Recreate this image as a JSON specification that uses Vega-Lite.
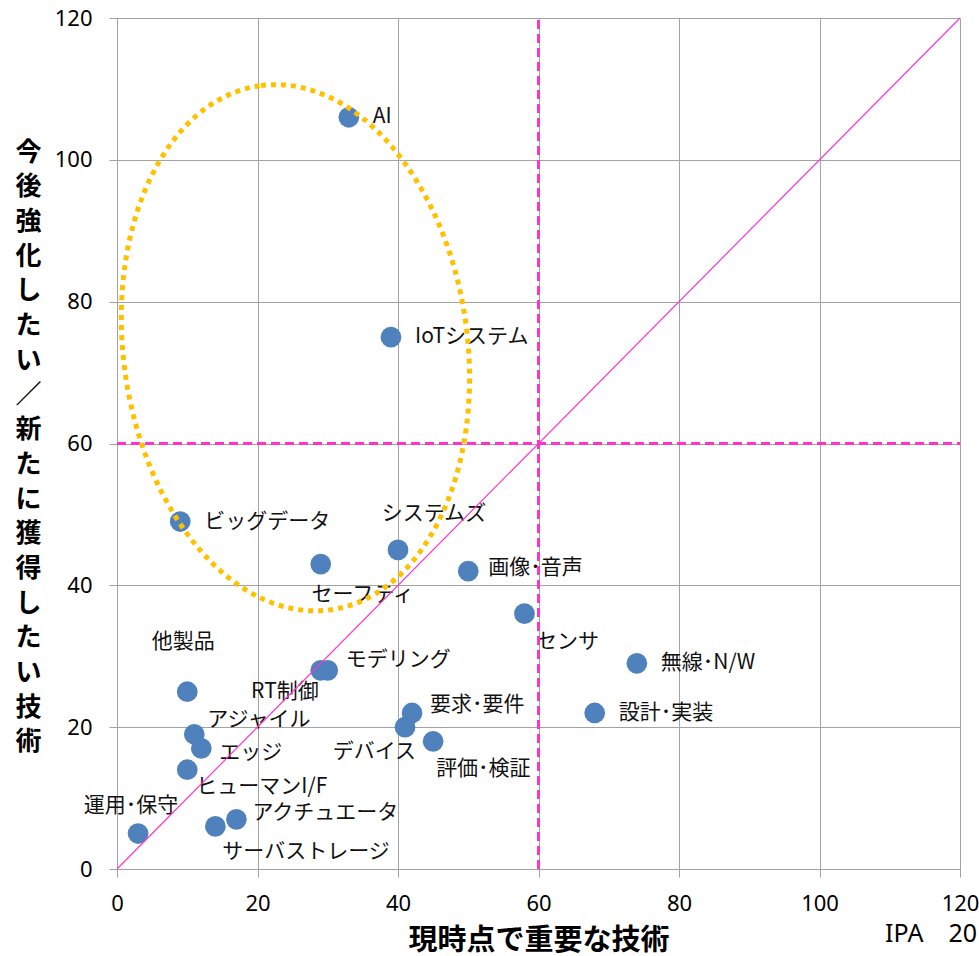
{
  "$schema": "https://vega.github.io/schema/vega-lite/v6.json",
  "width": 843,
  "height": 851,
  "autosize": "none",
  "padding": {"left": 117, "top": 18, "right": 19, "bottom": 87},
  "background": "white",
  "config": {"view": {"stroke": null}, "font": "Noto Sans CJK JP"},
  "title": {"text": "IPA　20", "orient": "bottom", "anchor": "end", "frame": "group", "font": "Noto Sans", "fontSize": 25, "fontWeight": "normal", "color": "#000000", "offset": -33, "dx": 17},
  "datasets": {
    "tech": [
      {"tech": "AI", "current": 33, "future": 106},
      {"tech": "IoTシステム", "current": 39, "future": 75},
      {"tech": "ビッグデータ", "current": 9, "future": 49},
      {"tech": "システムズ", "current": 40, "future": 45},
      {"tech": "セーフティ", "current": 29, "future": 43},
      {"tech": "画像･音声", "current": 50, "future": 42},
      {"tech": "センサ", "current": 58, "future": 36},
      {"tech": "無線･N/W", "current": 74, "future": 29},
      {"tech": "設計･実装", "current": 68, "future": 22},
      {"tech": "要求･要件", "current": 42, "future": 22},
      {"tech": "デバイス", "current": 41, "future": 20},
      {"tech": "評価･検証", "current": 45, "future": 18},
      {"tech": "モデリング", "current": 30, "future": 28},
      {"tech": "RT制御", "current": 29, "future": 28},
      {"tech": "他製品", "current": 10, "future": 25},
      {"tech": "アジャイル", "current": 11, "future": 19},
      {"tech": "エッジ", "current": 12, "future": 17},
      {"tech": "ヒューマンI/F", "current": 10, "future": 14},
      {"tech": "運用･保守", "current": 3, "future": 5},
      {"tech": "サーバストレージ", "current": 14, "future": 6},
      {"tech": "アクチュエータ", "current": 17, "future": 7}
    ],
    "guides": [
      {"kind": "diagonal", "x": 0, "y": 0, "x2": 120, "y2": 120},
      {"kind": "vertical", "x": 60, "y": 0, "x2": 60, "y2": 120},
      {"kind": "horizontal", "x": 0, "y": 60, "x2": 120, "y2": 60},
      {"kind": "ellipse", "x": 25.4, "y": 73.5, "x2": 25.4, "y2": 73.5}
    ]
  },
  "layer": [
    {
      "data": {"name": "tech"},
      "encoding": {
        "x": {"field": "current", "type": "quantitative", "scale": {"domain": [0, 120], "nice": false, "zero": false},
          "axis": {"values": [0, 20, 40, 60, 80, 100, 120], "grid": true, "gridColor": "#a3a3a3", "gridWidth": 1, "domainColor": "#a3a3a3", "tickColor": "#a3a3a3", "tickSize": 8, "labelFlush": false, "labelOverlap": false, "labelFont": "Noto Sans", "labelFontSize": 22, "labelColor": "#000000", "labelPadding": 16,
            "title": "現時点で重要な技術", "titleFont": "Noto Sans CJK JP", "titleFontSize": 29, "titleFontWeight": "bold", "titleColor": "#000000", "titleBaseline": "middle", "titleY": 71}},
        "y": {"field": "future", "type": "quantitative", "scale": {"domain": [0, 120], "nice": false, "zero": false},
          "axis": {"values": [0, 20, 40, 60, 80, 100, 120], "grid": true, "gridColor": "#a3a3a3", "gridWidth": 1, "domainColor": "#a3a3a3", "tickColor": "#a3a3a3", "tickSize": 8, "labelFlush": false, "labelOverlap": false, "labelFont": "Noto Sans", "labelFontSize": 22, "labelColor": "#000000", "labelPadding": 17,
            "title": ["今", "後", "強", "化", "し", "た", "い", "／", "新", "た", "に", "獲", "得", "し", "た", "い", "技", "術"],
            "titleFont": "Noto Sans CJK JP", "titleFontSize": 26, "titleFontWeight": "bold", "titleColor": "#000000", "titleAngle": 0, "titleAlign": "center", "titleBaseline": "middle", "titleX": -89, "titleY": 134, "titleLineHeight": 34.7}}
      },
      "layer": [
        {"mark": {"type": "circle", "size": 430, "color": "#4F81BD", "opacity": 1}},
        {
          "encoding": {"text": {"field": "tech", "type": "nominal"}},
          "layer": [
            {"transform": [{"filter": {"field": "tech", "oneOf": ["AI", "IoTシステム", "ビッグデータ", "無線･N/W", "設計･実装"]}}], "mark": {"type": "text", "align": "left", "baseline": "middle", "dx": 24, "dy": 0, "fontSize": 21, "color": "#111111"}},
            {"transform": [{"filter": "datum.tech === 'システムズ'"}], "mark": {"type": "text", "align": "center", "baseline": "middle", "dx": 36, "dy": -36, "fontSize": 21, "color": "#111111"}},
            {"transform": [{"filter": "datum.tech === 'セーフティ'"}], "mark": {"type": "text", "align": "center", "baseline": "middle", "dx": 42, "dy": 31, "fontSize": 21, "color": "#111111"}},
            {"transform": [{"filter": "datum.tech === '画像･音声'"}], "mark": {"type": "text", "align": "left", "baseline": "middle", "dx": 20, "dy": -3, "fontSize": 21, "color": "#111111"}},
            {"transform": [{"filter": "datum.tech === 'センサ'"}], "mark": {"type": "text", "align": "center", "baseline": "middle", "dx": 43, "dy": 28, "fontSize": 21, "color": "#111111"}},
            {"transform": [{"filter": "datum.tech === '要求･要件'"}], "mark": {"type": "text", "align": "left", "baseline": "middle", "dx": 18, "dy": -8, "fontSize": 21, "color": "#111111"}},
            {"transform": [{"filter": "datum.tech === '評価･検証'"}], "mark": {"type": "text", "align": "left", "baseline": "middle", "dx": 3, "dy": 28, "fontSize": 21, "color": "#111111"}},
            {"transform": [{"filter": "datum.tech === 'デバイス'"}], "mark": {"type": "text", "align": "right", "baseline": "middle", "dx": 11, "dy": 25, "fontSize": 21, "color": "#111111"}},
            {"transform": [{"filter": "datum.tech === 'モデリング'"}], "mark": {"type": "text", "align": "left", "baseline": "middle", "dx": 18, "dy": -10, "fontSize": 21, "color": "#111111"}},
            {"transform": [{"filter": "datum.tech === 'RT制御'"}], "mark": {"type": "text", "align": "right", "baseline": "middle", "dx": -2, "dy": 22, "fontSize": 21, "color": "#111111"}},
            {"transform": [{"filter": "datum.tech === '他製品'"}], "mark": {"type": "text", "align": "center", "baseline": "middle", "dx": -4, "dy": -50, "fontSize": 21, "color": "#111111"}},
            {"transform": [{"filter": "datum.tech === 'アジャイル'"}], "mark": {"type": "text", "align": "left", "baseline": "middle", "dx": 13, "dy": -14, "fontSize": 21, "color": "#111111"}},
            {"transform": [{"filter": "datum.tech === 'エッジ'"}], "mark": {"type": "text", "align": "left", "baseline": "middle", "dx": 18, "dy": 5, "fontSize": 21, "color": "#111111"}},
            {"transform": [{"filter": "datum.tech === 'ヒューマンI/F'"}], "mark": {"type": "text", "align": "left", "baseline": "middle", "dx": 9, "dy": 17, "fontSize": 21, "color": "#111111"}},
            {"transform": [{"filter": "datum.tech === '運用･保守'"}], "mark": {"type": "text", "align": "center", "baseline": "middle", "dx": -7, "dy": -28, "fontSize": 21, "color": "#111111"}},
            {"transform": [{"filter": "datum.tech === 'サーバストレージ'"}], "mark": {"type": "text", "align": "left", "baseline": "middle", "dx": 7, "dy": 26, "fontSize": 21, "color": "#111111"}},
            {"transform": [{"filter": "datum.tech === 'アクチュエータ'"}], "mark": {"type": "text", "align": "left", "baseline": "middle", "dx": 16, "dy": -6, "fontSize": 21, "color": "#111111"}}
          ]
        }
      ]
    },
    {
      "data": {"name": "guides"},
      "encoding": {
        "x": {"field": "x", "type": "quantitative"},
        "y": {"field": "y", "type": "quantitative"}
      },
      "layer": [
        {"transform": [{"filter": "datum.kind === 'diagonal'"}], "mark": {"type": "rule", "color": "#FF33CC", "strokeWidth": 1.2}, "encoding": {"x2": {"field": "x2"}, "y2": {"field": "y2"}}},
        {"transform": [{"filter": "datum.kind === 'vertical' || datum.kind === 'horizontal'"}], "mark": {"type": "rule", "color": "#FF33CC", "strokeWidth": 3, "strokeDash": [9, 5]}, "encoding": {"x2": {"field": "x2"}, "y2": {"field": "y2"}}},
        {"transform": [{"filter": "datum.kind === 'ellipse'"}], "mark": {"type": "point", "shape": "M0,-1C0.3596,-1,0.651,-0.5523,0.651,0C0.651,0.5523,0.3596,1,0,1C-0.3596,1,-0.651,0.5523,-0.651,0C-0.651,-0.5523,-0.3596,-1,0,-1Z", "size": 279600, "angle": -7.5, "filled": false, "stroke": "#FFC000", "strokeWidth": 5, "strokeDash": [5, 5], "strokeCap": "butt", "opacity": 1}}
      ]
    }
  ]
}
